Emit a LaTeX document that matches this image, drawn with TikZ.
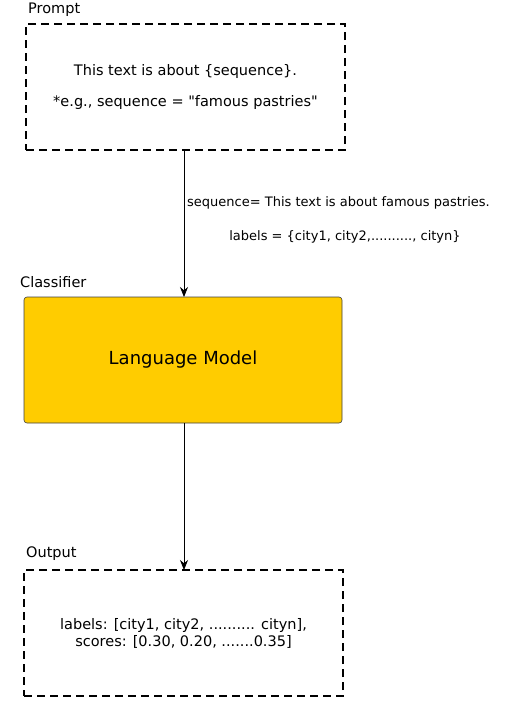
\documentclass[tikz,border=0pt]{standalone}
\usepackage{fontspec}
\defaultfontfeatures{}
\setmainfont{DejaVu Sans}[Ligatures=TeXOff]
\usetikzlibrary{arrows.meta}
\definecolor{lmyellow}{RGB}{255,204,0}
\begin{document}
\begin{tikzpicture}[x=1pt,y=-1pt,
  dbox/.style={draw=black, line width=1.8pt, dash pattern=on 8pt off 5pt, minimum width=319pt, minimum height=126pt, inner sep=0pt, align=center, font=\fontsize{14.5}{17}\selectfont},
  lmbox/.style={draw=black!75, fill=lmyellow, rounded corners=3pt, line width=0.6pt, minimum width=318pt, minimum height=126pt, inner sep=0pt, font=\fontsize{18}{21}\selectfont},
  title/.style={anchor=west, font=\fontsize{14.5}{17}\selectfont, inner sep=0pt},
  conn/.style={-{Stealth[length=10pt,width=8pt]}, line width=0.9pt},
  elabel/.style={font=\fontsize{13}{15}\selectfont, inner sep=0pt}]
\useasboundingbox (0,0) rectangle (524,726);
\node[dbox] (prompt) at (185.5,87) {This text is about \{sequence\}.\\[14pt] *e.g., sequence = "famous pastries"};
\node[title] (ptitle) at (28,10) {Prompt};
\node[lmbox] (lm) at (183,360) {Language Model};
\node[title] (ctitle) at (20,282) {Classifier};
\node[dbox] (out) at (183.5,633) {labels: [city1, city2, .......... cityn],\\ scores: [0.30, 0.20, .......0.35]};
\node[title] (otitle) at (26,554) {Output};
\coordinate (pb) at (184,150);
\coordinate (lt) at (184,297);
\coordinate (lb) at (184,423);
\coordinate (ot) at (184,570);
\draw[conn] (pb) -- (lt);
\draw[conn] (lb) -- (ot);
\node[elabel, anchor=west] (l1) at (187,203) {sequence= This text is about famous pastries.};
\node[elabel] (l2) at (345,237) {labels = \{city1, city2,.........., cityn\}};
\end{tikzpicture}
\end{document}
